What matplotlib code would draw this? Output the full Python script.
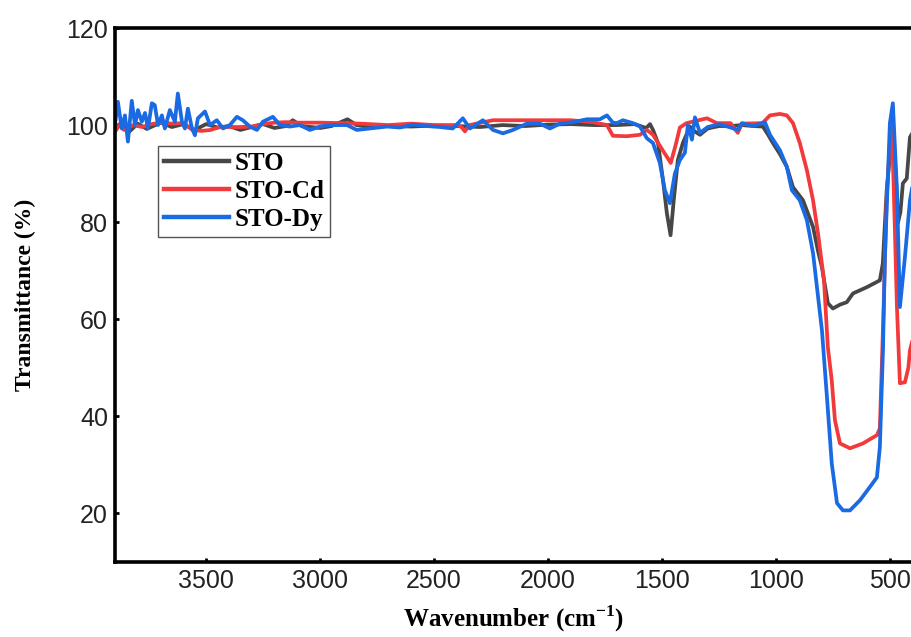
import matplotlib
matplotlib.use("Agg")
import matplotlib.pyplot as plt
import numpy as np

plt.rcParams['mathtext.fontset'] = 'custom'
plt.rcParams['mathtext.rm'] = 'Liberation Serif'
plt.rcParams['mathtext.bf'] = 'Liberation Serif:bold'

# STO (black)
sto_w = [3900, 3870, 3840, 3800, 3760, 3700, 3650, 3600, 3550, 3500, 3450, 3400, 3350,
         3300, 3250, 3200, 3150, 3120, 3080, 3000, 2950, 2880, 2840, 2780, 2700, 2600,
         2500, 2400, 2300, 2200, 2100, 2000, 1900, 1800, 1700, 1620, 1570, 1553, 1540,
         1518, 1496, 1479, 1463, 1449, 1431, 1409, 1378, 1360, 1334, 1300, 1250, 1200,
         1150, 1100, 1058, 1035, 1014, 983, 953, 926, 882, 838, 816, 799, 773, 751,
         720, 690, 663, 602, 545, 532, 515, 500, 488, 475, 466, 455, 444, 427, 413, 400]
sto_t = [99.5, 100.5, 98.5, 100.3, 99.2, 100.5, 99.6, 100.2, 99.0, 100.2, 99.5, 99.8, 99.0,
         99.6, 100.2, 99.4, 99.8, 101.0, 99.8, 99.4, 99.8, 101.2, 100.0, 99.6, 99.8, 99.7,
         99.9, 99.8, 99.6, 100.0, 99.8, 100.1, 100.2, 100.0, 100.0, 100.2, 99.4, 100.2, 99.0,
         96.3, 88.6, 81.8, 77.3, 84.5, 92.8, 96.3, 99.7, 98.8, 98.0, 99.3, 99.8, 99.8,
         100.0, 99.8, 99.7, 98.0, 96.3, 94.0, 91.4, 87.2, 84.5, 79.0, 74.0, 70.7, 63.3, 62.2,
         63.0, 63.5, 65.3, 66.6, 68.0, 71.5, 86.6, 94.0, 97.0, 90.0, 79.8, 82.0, 88.0, 89.0, 97.5, 98.5]

# STO-Cd (red)
cd_w = [3900, 3880, 3860, 3820, 3780, 3740, 3700, 3650, 3600, 3560, 3520, 3480, 3440,
        3400, 3350, 3300, 3250, 3200, 3150, 3100, 3000, 2900, 2825, 2700, 2600, 2500,
        2400, 2380, 2365, 2345, 2242, 2100, 2000, 1900, 1803, 1742, 1716, 1655, 1597,
        1567, 1540, 1500, 1462, 1440, 1422, 1393, 1340, 1303, 1260, 1200, 1168, 1150,
        1060, 1027, 983, 953, 926, 896, 865, 838, 816, 790, 773, 756, 742, 720, 676,
        619, 558, 545, 530, 515, 500, 492, 480, 470, 457, 435, 420, 413, 400]
cd_t = [98.6, 100.0, 99.0, 100.0, 99.6, 100.2, 100.5, 100.3, 100.4, 99.0, 98.8, 99.0, 99.6,
        99.6, 99.6, 99.7, 100.2, 100.5, 100.6, 100.5, 100.5, 100.4, 100.3, 100.0, 100.3, 100.0,
        100.0, 99.6, 98.7, 100.0, 101.0, 101.0, 101.0, 101.0, 100.6, 100.0, 97.8, 97.7, 98.0,
        99.0, 98.0, 95.0, 92.2, 96.0, 99.5, 100.4, 101.0, 101.4, 100.4, 100.4, 98.4, 100.3,
        100.4, 102.0, 102.3, 102.0, 100.4, 96.3, 90.7, 84.5, 77.6, 68.0, 54.2, 47.4, 39.2, 34.4, 33.4,
        34.4, 36.1, 37.5, 60.0, 85.0, 97.0, 100.0, 80.0, 62.5, 46.8, 47.0, 50.0, 53.6, 56.0]

# STO-Dy (blue)
dy_w = [3900, 3887, 3870, 3856, 3843, 3826, 3812, 3799, 3782, 3768, 3755, 3738, 3725,
        3711, 3694, 3681, 3659, 3637, 3624, 3606, 3593, 3580, 3562, 3549, 3536, 3505,
        3483, 3453, 3426, 3396, 3365, 3339, 3308, 3277, 3251, 3207, 3176, 3132, 3089,
        3045, 3001, 2957, 2913, 2882, 2839, 2782, 2707, 2650, 2593, 2532, 2475, 2418,
        2374, 2343, 2286, 2242, 2198, 2154, 2093, 2036, 1992, 1948, 1891, 1830, 1773,
        1742, 1716, 1698, 1672, 1628, 1597, 1567, 1540, 1510, 1488, 1466, 1444, 1422,
        1400, 1387, 1369, 1356, 1334, 1300, 1250, 1200, 1168, 1150, 1100, 1049, 1027,
        983, 953, 931, 896, 865, 838, 816, 799, 777, 756, 733, 707, 676, 632, 589, 558,
        545, 531, 523, 501, 488, 470, 457, 435, 413, 400]
dy_t = [100.0, 104.8, 99.3, 102.0, 96.6, 105.0, 100.0, 103.1, 100.7, 102.5, 99.3, 104.5, 104.1,
        100.0, 102.0, 99.3, 103.1, 100.7, 106.5, 100.7, 99.3, 103.4, 99.3, 97.9, 101.4, 102.8,
        100.0, 101.0, 99.3, 100.0, 101.7, 101.0, 99.7, 99.0, 100.7, 101.7, 100.0, 99.7, 100.0,
        99.0, 99.7, 100.0, 100.0, 100.0, 99.0, 99.3, 99.7, 99.5, 100.1, 99.8, 99.6, 99.3,
        101.4, 99.3, 101.0, 99.0, 98.3, 99.0, 100.3, 100.3, 99.3, 100.3, 100.6, 101.2, 101.2,
        102.0, 100.5, 100.4, 101.0, 100.4, 99.7, 97.3, 96.3, 92.2, 86.6, 83.9, 90.0, 92.8,
        94.3, 100.0, 97.0, 101.6, 98.4, 99.6, 100.2, 99.5, 99.0, 100.4, 99.8, 100.6, 98.0,
        94.8, 91.4, 86.6, 84.5, 80.4, 73.6, 64.6, 57.7, 43.9, 30.3, 22.1, 20.6, 20.6, 22.7, 25.4, 27.4,
        33.6, 54.2, 72.8, 100.4, 104.5, 86.6, 62.5, 72.8, 84.5, 88.0]

labels = ["STO", "STO-Cd", "STO-Dy"]
colors = ["#474747", "#f23a3c", "#1a6be3"]

fig = plt.figure(figsize=(9.12, 6.37), dpi=100)
ax = fig.add_axes([0.126, 0.118, 0.875, 0.838])

ax.plot(sto_w, sto_t, color=colors[0], lw=2.7, label=labels[0])
ax.plot(cd_w, cd_t, color=colors[1], lw=2.7, label=labels[1])
ax.plot(dy_w, dy_t, color=colors[2], lw=2.7, label=labels[2])

ax.set_xlim(3900, 400)
ax.set_ylim(10, 120)
ax.set_xticks(np.arange(3500, 400, -500))
ax.set_yticks(np.arange(20, 121, 20))

for lab in ax.get_xticklabels() + ax.get_yticklabels():
    lab.set_fontfamily("Liberation Sans")
    lab.set_fontsize(18)
    lab.set_color("#222222")
ax.tick_params(direction="in", length=3, width=2, pad=5)

for s in ["left", "bottom", "top"]:
    ax.spines[s].set_linewidth(2.6)
ax.spines["right"].set_linewidth(1.0)
ax.spines["right"].set_color("#555555")

ax.set_ylabel("Transmittance (%)", fontfamily="Liberation Serif", fontweight="bold",
              fontsize=17, labelpad=22)
ax.set_xlabel("Wavenumber (cm$^{\\mathbf{-1}}$)", fontfamily="Liberation Serif",
              fontweight="bold", fontsize=18, labelpad=8)

leg = ax.legend(loc="upper left", bbox_to_anchor=(0.054, 0.779), borderaxespad=0,
                prop={"family": "Liberation Serif", "weight": "bold", "size": 18},
                fancybox=False, edgecolor="#555555", framealpha=1,
                handlelength=2.6, handletextpad=0.2, labelspacing=0.2, borderpad=0.25)
leg.get_frame().set_linewidth(1.0)
for l in leg.get_lines():
    l.set_linewidth(3.2)

fig.savefig("out.png", dpi=100)
